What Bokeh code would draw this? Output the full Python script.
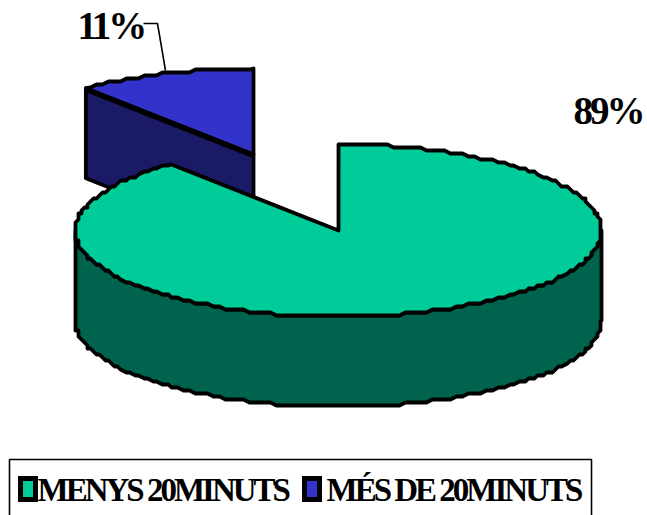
import numpy as np
from bokeh.plotting import figure
from bokeh.embed import file_html
from bokeh.resources import INLINE
from bokeh.models import Range1d
from bokeh.core.properties import value

categories = ["MENYS 20MINUTS", "MÉS DE 20MINUTS"]
shares = [89, 11]
share_labels = ["89%", "11%"]
top_colors = ["#00CC99", "#3333CC"]
side_colors = ["#00634D", "#1A1A66"]

W, H = 647, 515
p = figure(width=W, height=H, output_backend="svg", toolbar_location=None,
           x_range=Range1d(0, W), y_range=Range1d(H, 0),
           x_axis_type=None, y_axis_type=None, min_border=0,
           outline_line_color=None, background_fill_color="white",
           border_fill_color="white")
p.grid.visible = False
p.styles = {"letter-spacing": "-3px"}

RX, RY, DEPTH = 263, 86, 90
LW = 3.8
GRID = 3

def rim(cx, cy, a0, a1):
    a = np.radians(np.arange(a0, a1, 1.5).tolist() + [a1])
    x = cx + RX * np.sin(a)
    y = cy - RY * np.cos(a)
    # the original outline is a coarse, stepped polyline
    xs, ys = [x[0]], [y[0]]
    for xi, yi in zip(x[1:-1], y[1:-1]):
        xq, yq = round(xi / GRID) * GRID, round(yi / GRID) * GRID
        if (xq, yq) != (xs[-1], ys[-1]):
            xs.append(xq); ys.append(yq)
    xs.append(x[-1]); ys.append(y[-1])
    return np.array(xs, float), np.array(ys, float)

green_end = 360 * shares[0] / sum(shares)

def poly(x, y, fill, lw=LW):
    p.patch(list(x), list(y), fill_color=fill, line_color="black", line_width=lw,
            line_join="round")

# exploded small slice
bx, by = 253, 154
xs, ys = rim(bx, by, green_end, 360)
ca = np.radians(green_end)
cx0, cy0 = bx + RX * np.sin(ca), by - RY * np.cos(ca)
poly([cx0, bx, bx, cx0], [cy0, by, by + DEPTH, cy0 + DEPTH], side_colors[1])
poly([bx] + list(xs) + [bx], [by] + list(ys) + [by], top_colors[1])
p.line([cx0, bx], [cy0 + 1, by + 1], line_color="black", line_width=LW + 1.5)

# large slice
gx, gy = 338, 230
sx, sy = rim(gx, gy, 90, 270)
poly(list(sx) + list(sx[::-1]), list(sy) + list(sy[::-1] + DEPTH), side_colors[0])
tx, ty = rim(gx, gy, 0, green_end)
poly([gx] + list(tx) + [gx], [gy] + list(ty) + [gy], top_colors[0])

# leader
p.line([143, 157, 165], [23, 23, 70], line_color="black", line_width=1.6)

# share labels
p.text([573], [110], text=[share_labels[0]], text_font=value("Liberation Serif"),
       text_font_style="bold", text_font_size="39px", text_color="black",
       text_baseline="alphabetic")
p.text([77], [25], text=[share_labels[1]], text_font=value("Liberation Serif"),
       text_font_style="bold", text_font_size="39px", text_color="black",
       text_baseline="alphabetic")

# legend
p.line([9, 9, 591, 591], [530, 459, 459, 530], line_color="black", line_width=1.6)
for sw_x, col in zip([20, 304], top_colors):
    p.quad(left=[sw_x], right=[sw_x + 15], top=[478], bottom=[499], fill_color=col,
           line_color="black", line_width=5, line_join="miter")
p.text([37, 326], [489, 489], text=categories, text_font=value("Liberation Serif"),
       text_font_style="bold", text_font_size="33px", text_color="black",
       text_baseline="alphabetic")

open("out.html", "w").write(file_html(p, INLINE))
